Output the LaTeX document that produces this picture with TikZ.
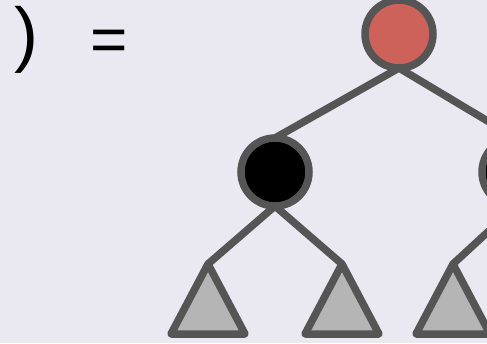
\documentclass[tikz,border=0pt]{standalone}
\usepackage{fontspec}
\setmainfont{Liberation Sans}
\usetikzlibrary{shadows}
\definecolor{bgc}{HTML}{EAE8F1}
\definecolor{edgec}{HTML}{555555}
\definecolor{rootred}{HTML}{CC625A}
\definecolor{trifill}{HTML}{B5B5B5}
\pgfdeclarelayer{back}
\pgfdeclarelayer{edges}
\pgfsetlayers{back,edges,main}
\begin{document}
\begin{tikzpicture}[x=1pt,y=-1pt,
  treenode/.style={circle, draw=edgec, line width=7.5pt, minimum size=68pt, inner sep=0pt, outer sep=0pt,
    drop shadow={opacity=0.12, shadow xshift=2pt, shadow yshift=-3pt, fill=black}},
  treeedge/.style={draw=edgec, line width=7.5pt},
  subtree/.style={draw=edgec, fill=trifill, line width=7.5pt, line join=round},
  bigtext/.style={anchor=base west, inner sep=0pt, text=black}]
\useasboundingbox (0,0) rectangle (487,343);
\begin{pgfonlayer}{back}
\fill[bgc] (0,0) rectangle (487,343);
\end{pgfonlayer}
\clip (0,0) rectangle (487,343);
% text
\node[bigtext, font=\fontsize{72}{72}\selectfont] (paren) at (14,58.5) {)};
\node[bigtext, font=\fontsize{64}{64}\selectfont] (eq) at (90,61.5) {=};
% tree nodes
\node[treenode, fill=rootred] (root) at (399,34) {};
\node[treenode, fill=black] (left) at (275,172) {};
\node[treenode, fill=black] (right) at (516,172) {};
% subtree apexes
\coordinate (t1) at (208,264);
\coordinate (t2) at (342,264);
\coordinate (t3) at (453,264);
\coordinate (t4) at (583,264);
% subtrees
\foreach \t in {t1,t2,t3,t4}{
  \fill[black, opacity=0.12, line join=round] ([shift={(2,3)}]\t) -- ++(37,70) -- ++(-74,0) -- cycle;
  \path[subtree] (\t) -- ++(37,70) -- ++(-74,0) -- cycle;
}
% edges
\begin{pgfonlayer}{edges}
\draw[treeedge] (root.south) -- (left.north);
\draw[treeedge] (root.south) -- (right.north);
\draw[treeedge] (left.south) -- (t1);
\draw[treeedge] (left.south) -- (t2);
\draw[treeedge] (right.south) -- (t3);
\draw[treeedge] (right.south) -- (t4);
\end{pgfonlayer}
\end{tikzpicture}
\end{document}
